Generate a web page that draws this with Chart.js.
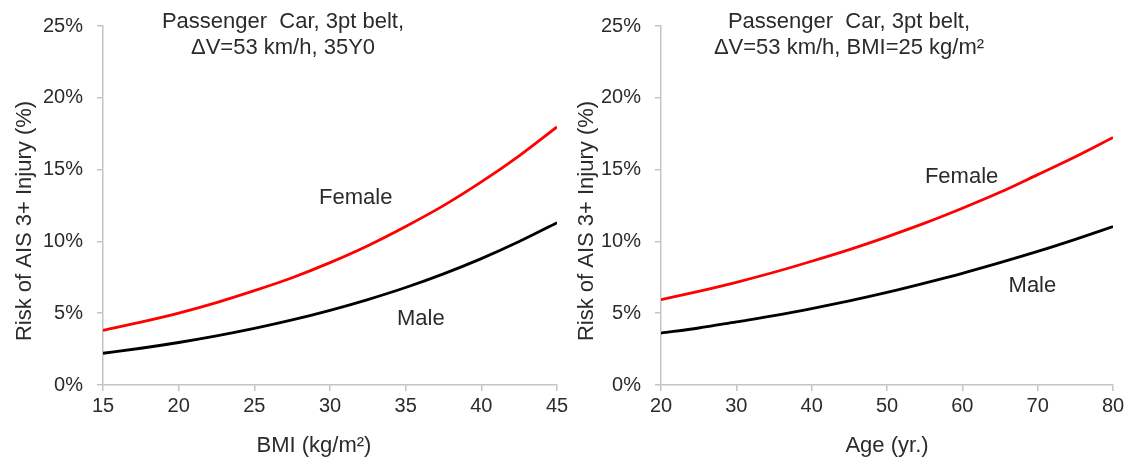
<!DOCTYPE html>
<html>
<head>
<meta charset="utf-8">
<script src="https://cdn.jsdelivr.net/npm/chart.js@4.4.1/dist/chart.umd.min.js"></script>
<style>
  html, body { margin: 0; padding: 0; background: #ffffff; }
  #wrap { position: relative; width: 1132px; height: 457px; overflow: hidden; }
  .pane { position: absolute; top: 0; }
  #paneBmi { left: 0; }
  #paneAge { left: 566px; }
</style>
</head>
<body>
<div id="wrap">
  <div class="pane" id="paneBmi"><canvas id="chartBmi" width="600" height="457"></canvas></div>
  <div class="pane" id="paneAge"><canvas id="chartAge" width="566" height="457"></canvas></div>
</div>
<script>
// ---- Risk of AIS 3+ injury by BMI (age 35) ----
const bmiValues      = [15, 17.5, 20, 22.5, 25, 27.5, 30, 32.5, 35, 37.5, 40, 42.5, 45];
const bmiFemaleRisk  = [3.81, 4.38, 5.01, 5.74, 6.57, 7.47, 8.52, 9.70, 11.04, 12.49, 14.14, 15.96, 17.97];
const bmiMaleRisk    = [2.21, 2.56, 2.96, 3.42, 3.94, 4.53, 5.20, 5.95, 6.79, 7.74, 8.80, 9.99, 11.30];

// ---- Risk of AIS 3+ injury by age (BMI 25) ----
const ageValues      = [20, 25, 30, 35, 40, 45, 50, 55, 60, 65, 70, 75, 80];
const ageFemaleRisk  = [5.94, 6.52, 7.15, 7.85, 8.62, 9.43, 10.32, 11.27, 12.31, 13.42, 14.65, 15.90, 17.24];
const ageMaleRisk    = [3.61, 3.97, 4.40, 4.83, 5.32, 5.86, 6.45, 7.10, 7.78, 8.52, 9.30, 10.14, 11.03];

// ---- axis ticks and text ----
const riskTicks      = [0, 5, 10, 15, 20, 25];
const bmiTicks       = [15, 20, 25, 30, 35, 40, 45];
const ageTicks       = [20, 30, 40, 50, 60, 70, 80];
const riskAxisTitle  = 'Risk of AIS 3+ Injury (%)';
const bmiAxisTitle   = 'BMI (kg/m\u00B2)';
const ageAxisTitle   = 'Age (yr.)';
const bmiPanelTitle  = ['Passenger  Car, 3pt belt,', '\u0394V=53 km/h, 35Y0'];
const agePanelTitle  = ['Passenger  Car, 3pt belt,', '\u0394V=53 km/h, BMI=25 kg/m\u00B2'];
const seriesNames    = ['Female', 'Male'];

const FONT = '"Liberation Sans", Arial, Helvetica, sans-serif';
const TEXT = '#2b2b2b';
const AXIS = '#c4c4c4';
Chart.defaults.font.family = FONT;
Chart.defaults.color = TEXT;

const toPoints = (xs, ys) => xs.map((x, i) => ({ x: x, y: ys[i] }));

// Draws panel title, axis titles and the in-plot series names.
const panelTextPlugin = {
  id: 'panelText',
  afterDraw(chart, args, o) {
    const ctx = chart.ctx;
    const xs = chart.scales.x, ys = chart.scales.y;
    ctx.save();
    ctx.fillStyle = TEXT;
    ctx.textAlign = 'center';
    ctx.textBaseline = 'alphabetic';

    ctx.font = o.titleSize + 'px ' + FONT;
    o.title.forEach((line, i) => ctx.fillText(line, o.titleX, o.titleBaselines[i]));

    ctx.font = o.axisTitleSize + 'px ' + FONT;
    ctx.fillText(o.xTitle, o.xTitleX, o.xTitleBaseline);

    ctx.save();
    ctx.translate(o.yTitleBaseline, o.yTitleCenter);
    ctx.rotate(-Math.PI / 2);
    ctx.fillText(o.yTitle, 0, 0);
    ctx.restore();

    ctx.font = o.labelSize + 'px ' + FONT;
    ctx.textBaseline = 'middle';
    o.labels.forEach(l => ctx.fillText(l.text, xs.getPixelForValue(l.x), ys.getPixelForValue(l.y)));
    ctx.restore();
  }
};

function buildChart(canvasId, cfg) {
  const canvas = document.getElementById(canvasId);
  return new Chart(canvas, {
    type: 'line',
    data: {
      datasets: [
        { label: seriesNames[0], data: toPoints(cfg.xValues, cfg.female),
          borderColor: '#ff0000', borderWidth: 2.8, pointRadius: 0,
          cubicInterpolationMode: 'monotone', fill: false },
        { label: seriesNames[1], data: toPoints(cfg.xValues, cfg.male),
          borderColor: '#000000', borderWidth: 2.8, pointRadius: 0,
          cubicInterpolationMode: 'monotone', fill: false }
      ]
    },
    options: {
      responsive: false,
      animation: false,
      events: [],
      layout: { padding: { left: 0, right: cfg.rightPad, top: 20, bottom: 0 } },
      plugins: {
        legend: { display: false },
        tooltip: { enabled: false },
        panelText: cfg.text
      },
      scales: {
        x: {
          type: 'linear',
          min: cfg.xTicks[0],
          max: cfg.xTicks[cfg.xTicks.length - 1],
          afterFit: s => { s.height = 72; },
          afterBuildTicks: s => { s.ticks = cfg.xTicks.map(v => ({ value: v })); },
          ticks: { autoSkip: false, maxRotation: 0, padding: 3,
                   font: { size: 20 }, color: TEXT },
          grid: { drawOnChartArea: false, drawTicks: true, tickLength: 6,
                  color: AXIS, lineWidth: 1.5 },
          border: { color: AXIS, width: 1.5 }
        },
        y: {
          min: riskTicks[0],
          max: riskTicks[riskTicks.length - 1],
          afterFit: s => { s.width = cfg.axisLeft; },
          afterBuildTicks: s => { s.ticks = riskTicks.map(v => ({ value: v })); },
          ticks: { padding: 14, font: { size: 20 }, color: TEXT,
                   callback: v => v + '%' },
          grid: { drawOnChartArea: false, drawTicks: true, tickLength: 6,
                  color: AXIS, lineWidth: 1.5 },
          border: { color: AXIS, width: 1.5 }
        }
      }
    },
    plugins: [panelTextPlugin]
  });
}

buildChart('chartBmi', {
  xValues: bmiValues, female: bmiFemaleRisk, male: bmiMaleRisk,
  xTicks: bmiTicks, axisLeft: 103, rightPad: 600 - 557,
  text: {
    title: bmiPanelTitle, titleX: 283, titleBaselines: [28, 54], titleSize: 22,
    xTitle: bmiAxisTitle, xTitleX: 314, xTitleBaseline: 452,
    yTitle: riskAxisTitle, yTitleBaseline: 31, yTitleCenter: 221,
    axisTitleSize: 22, labelSize: 22,
    labels: [
      { text: seriesNames[0], x: 31.7, y: 13.0 },
      { text: seriesNames[1], x: 36.0, y: 4.6 }
    ]
  }
});

buildChart('chartAge', {
  xValues: ageValues, female: ageFemaleRisk, male: ageMaleRisk,
  xTicks: ageTicks, axisLeft: 95, rightPad: 566 - 547,
  text: {
    title: agePanelTitle, titleX: 283, titleBaselines: [28, 54], titleSize: 22,
    xTitle: ageAxisTitle, xTitleX: 321, xTitleBaseline: 452,
    yTitle: riskAxisTitle, yTitleBaseline: 27, yTitleCenter: 221,
    axisTitleSize: 22, labelSize: 22,
    labels: [
      { text: seriesNames[0], x: 59.9, y: 14.5 },
      { text: seriesNames[1], x: 69.3, y: 6.9 }
    ]
  }
});
</script>
</body>
</html>
